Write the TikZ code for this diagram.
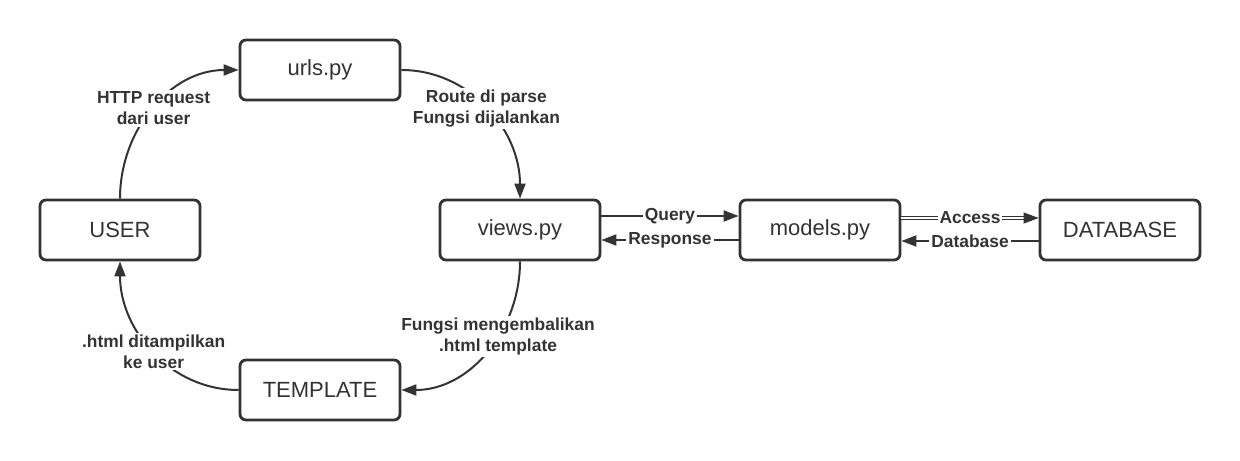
\documentclass[tikz,border=0pt]{standalone}
\usepackage{fontspec}
\setmainfont{Liberation Sans}
\usetikzlibrary{arrows.meta,positioning}
\definecolor{inkgray}{RGB}{51,51,51}

\begin{document}
\begin{tikzpicture}[
  x=0.5pt, y=0.5pt,
  font=\fontsize{11}{12}\selectfont,
  box/.style={draw=inkgray, text=inkgray, line width=1.4pt, rounded corners=3pt, minimum width=80pt, minimum height=30pt, fill=white},
  lbl/.style={font=\fontsize{8.7}{10.5}\selectfont\bfseries, text=inkgray, fill=white, inner sep=1pt, align=center},
  arr/.style={-{Triangle[length=7.5pt, width=5.5pt]}, line width=1pt, draw=inkgray},
  dbl/.style={double=white, line width=0.5pt, double distance=0.7pt}
]
\useasboundingbox (0,0) rectangle (1240,460);
\node[box] (user) at (120,230) {USER};
\node[box] (urls) at (320,390) {urls.py};
\node[box, right=118.6pt of user] (views) {views.py};
\node[box, right=68.6pt of views] (models) {models.py};
\node[box, right=68.6pt of models] (db) {DATABASE};
\node[box] (tmpl) at (320,70) {TEMPLATE};
% request / response loop
\draw[arr] (user.north) to[out=90, in=180] node[lbl] {HTTP request\\dari user} (urls.west);
\draw[arr] (urls.east) to[out=0, in=90] node[lbl] {Route di parse\\Fungsi dijalankan} (views.north);
\draw[arr] (views.south) to[out=270, in=0] node[lbl, pos=0.4] {Fungsi mengembalikan\\.html template} (tmpl.east);
\draw[arr] (tmpl.west) to[out=180, in=270] node[lbl] {.html ditampilkan\\ke user} (user.south);
% model and database
\draw[arr] ([yshift=7pt]views.east) -- node[lbl] {Query} ([yshift=7pt]models.west);
\draw[arr] ([yshift=-5pt]models.west) -- node[lbl] {Response} ([yshift=-5pt]views.east);
\draw[arr, dbl] ([yshift=6pt]models.east) -- node[lbl] {Access} ([yshift=6pt]db.west);
\draw[arr] ([yshift=-5.5pt]db.west) -- node[lbl] {Database} ([yshift=-5.5pt]models.east);
\end{tikzpicture}
\end{document}
